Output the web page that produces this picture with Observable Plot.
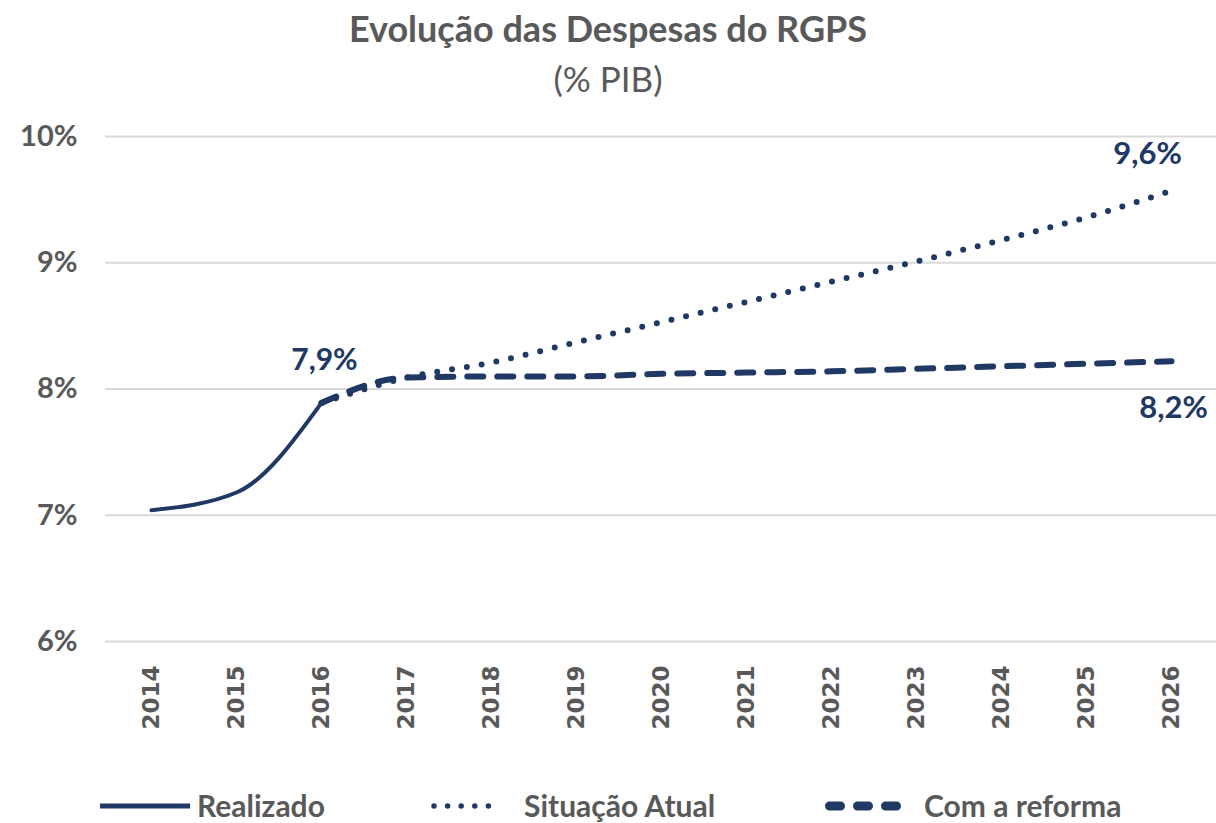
<!DOCTYPE html>
<html>
<head>
<meta charset="utf-8">
<script src="https://cdn.jsdelivr.net/npm/d3@7"></script>
<script src="https://cdn.jsdelivr.net/npm/@observablehq/plot@0.6"></script>
<style>
  html, body { margin: 0; padding: 0; background: #fff; }
  #wrap { position: relative; width: 1216px; height: 823px; overflow: hidden; }
  #title { position: absolute; top: 6px; left: 0; width: 1216px; text-align: center; line-height: 44px;
    font-family: Lato, sans-serif; font-weight: bold; font-size: 36px; color: #595959; }
  #subtitle { position: absolute; top: 57px; left: 0; width: 1216px; text-align: center; line-height: 42px;
    font-family: Lato, sans-serif; font-size: 35px; color: #595959; }
  #chart { position: absolute; top: 100px; left: 0; }
  .legsvg { position: absolute; top: 796px; overflow: visible; }
  .legtxt { position: absolute; top: 789px; font-family: Lato, sans-serif; font-weight: bold;
    font-size: 30px; line-height: 32px; color: #595959; white-space: nowrap; }
</style>
</head>
<body>
<div id="wrap">
  <div id="title">Evolução das Despesas do RGPS</div>
  <div id="subtitle">(% PIB)</div>
  <div id="chart"></div>
  <div id="legend"></div>
</div>
<script>
const years = ["2014","2015","2016","2017","2018","2019","2020","2021","2022","2023","2024","2025","2026"];
const realizadoYears = ["2014","2015","2016"];
const realizado = [7.04, 7.18, 7.89];
const projYears = ["2016","2017","2018","2019","2020","2021","2022","2023","2024","2025","2026"];
const situacaoAtual = [7.89, 8.09, 8.21, 8.37, 8.53, 8.69, 8.85, 9.01, 9.18, 9.36, 9.57];
const comReforma = [7.89, 8.09, 8.10, 8.10, 8.12, 8.13, 8.14, 8.16, 8.18, 8.20, 8.22];
const yTicks = [6, 7, 8, 9, 10];
const labelYears = ["2016", "2026", "2026"];
const labelValues = [7.89, 9.57, 8.22];
const labelTexts = ["7,9%", "9,6%", "8,2%"];
const seriesNames = ["Realizado", "Situação Atual", "Com a reforma"];

const navy = "#203864";
const grey = "#595959";

const rData = realizadoYears.map((y, i) => ({year: y, value: realizado[i]}));
const sData = projYears.map((y, i) => ({year: y, value: situacaoAtual[i]}));
const cData = projYears.map((y, i) => ({year: y, value: comReforma[i]}));
const lblData = labelTexts.map((t, i) => ({year: labelYears[i], value: labelValues[i], text: t}));

const labelDx = [3, -24, 2];
const labelDy = [-42, -37, 47];
const labelSize = [30, 31, 31];

const chart = Plot.plot({
  width: 1216,
  height: 670,
  marginLeft: 105,
  marginRight: 0,
  marginTop: 36,
  marginBottom: 129,
  style: {background: "transparent", overflow: "visible"},
  x: {type: "point", domain: years, padding: 0.5, align: 0.5},
  y: {domain: [6, 10]},
  marks: [
    Plot.ruleY(yTicks, {stroke: "#d9d9d9", strokeWidth: 2}),
    Plot.axisY({ticks: yTicks, tickSize: 0, tickPadding: 28, tickFormat: d => d + "%",
      fontSize: 29, fontWeight: "bold", fontFamily: "Lato, sans-serif", fill: grey, label: null}),
    Plot.axisX({tickSize: 0, tickPadding: 24, tickRotate: -90, fontSize: 23, fontWeight: "bold",
      fontFamily: "DejaVu Sans, sans-serif", fill: grey, label: null}),
    Plot.line(sData, {x: "year", y: "value", stroke: navy, strokeWidth: 6, strokeDasharray: "0 15",
      strokeLinecap: "round", curve: "monotone-x"}),
    Plot.line(cData, {x: "year", y: "value", stroke: navy, strokeWidth: 6, strokeDasharray: "16 14",
      strokeLinecap: "round", curve: "monotone-x"}),
    Plot.line(rData, {x: "year", y: "value", stroke: navy, strokeWidth: 4, strokeLinecap: "round",
      curve: "monotone-x"}),
    ...lblData.map((d, i) => Plot.text([d], {x: "year", y: "value", text: "text", fill: navy,
      fontSize: labelSize[i], fontWeight: "bold", fontFamily: "Lato, sans-serif",
      dx: labelDx[i], dy: labelDy[i]}))
  ]
});
document.getElementById("chart").appendChild(chart);

// Legend
const legend = document.getElementById("legend");
const sampleLeft = [100, 430, 825];
const textLeft = [197, 524, 924];
const samples = [
  `<line x1="0" x2="90" y1="10" y2="10" stroke="${navy}" stroke-width="5"/>`,
  `<line x1="4" x2="72" y1="10" y2="10" stroke="${navy}" stroke-width="5.5" stroke-dasharray="0 13.6" stroke-linecap="round"/>`,
  `<line x1="4.5" x2="71.5" y1="10" y2="10" stroke="${navy}" stroke-width="9" stroke-dasharray="11 17" stroke-linecap="round"/>`
];
seriesNames.forEach((name, i) => {
  const s = document.createElementNS("http://www.w3.org/2000/svg", "svg");
  s.setAttribute("class", "legsvg");
  s.setAttribute("width", "92");
  s.setAttribute("height", "20");
  s.style.left = sampleLeft[i] + "px";
  s.innerHTML = samples[i];
  legend.appendChild(s);
  const t = document.createElement("div");
  t.className = "legtxt";
  t.style.left = textLeft[i] + "px";
  t.textContent = name;
  legend.appendChild(t);
});
</script>
</body>
</html>
